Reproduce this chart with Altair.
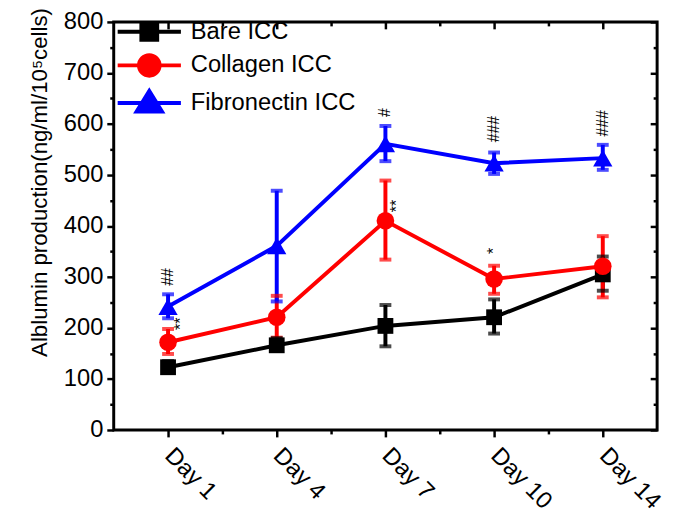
import altair as alt
import pandas as pd

days = ["Day 1", "Day 4", "Day 7", "Day 10", "Day 14"]
series = ["Bare ICC", "Collagen ICC", "Fibronectin ICC"]
colors = ["#000000", "#ff0000", "#0000ff"]

bare_mean = [123, 166, 204, 221, 305]
bare_lo = [112, 155, 164, 189, 273]
bare_hi = [135, 180, 245, 256, 340]
coll_mean = [172, 221, 410, 296, 321]
coll_lo = [149, 181, 334, 267, 260]
coll_hi = [198, 263, 489, 322, 380]
fib_mean = [242, 361, 561, 523, 533]
fib_lo = [219, 252, 527, 502, 510]
fib_hi = [266, 469, 596, 544, 559]

ann_text = ["##", "**", "#", "**", "*", "###", "###"]
ann_x = [1.0, 1.12, 3.0, 3.11, 4.0, 4.0, 5.0]
ann_y = [300, 208, 622, 439, 351, 590, 601]

y_title = "Alblumin production(ng/ml/10\u2075cells)"
FONT = "Liberation Sans"

rows = []
for s, m, lo, hi in [
    (series[0], bare_mean, bare_lo, bare_hi),
    (series[1], coll_mean, coll_lo, coll_hi),
    (series[2], fib_mean, fib_lo, fib_hi),
]:
    for i in range(len(days)):
        rows.append({"series": s, "x": i + 1, "day": days[i], "mean": m[i], "lo": lo[i], "hi": hi[i]})
df = pd.DataFrame(rows)
ann = pd.DataFrame({"ax": ann_x, "ay": ann_y, "at": ann_text})

xs = alt.Scale(domain=[0.5, 5.5], nice=False, zero=False)
ys = alt.Scale(domain=[0, 800], nice=False, zero=False)
color = alt.Color("series:N", scale=alt.Scale(domain=series, range=colors), legend=None)

label_expr = "[" + ",".join("'" + d + "'" for d in days) + "][datum.value-1]"
common = dict(domain=False, grid=False, title=None, tickColor="black", tickWidth=2.5)

x_major = alt.Axis(orient="bottom", values=[1, 2, 3, 4, 5], labelExpr=label_expr, labelAngle=45,
                   labelAlign="left", labelBaseline="middle", labelFont=FONT, labelFontSize=24,
                   labelColor="black", labelPadding=15, tickSize=7, labelOverlap=False, **common)
x_minor = alt.Axis(orient="bottom", values=[1.5, 2.5, 3.5, 4.5], labels=False, tickSize=4, **common)
x_top = alt.Axis(orient="top", values=[1, 2, 3, 4, 5], labels=False, tickSize=7, offset=-7, **common)
x_top_minor = alt.Axis(orient="top", values=[1.5, 2.5, 3.5, 4.5], labels=False, tickSize=4, offset=-4, **common)

y_major = alt.Axis(orient="left", values=list(range(0, 801, 100)), labelFont=FONT, labelFontSize=24,
                   labelColor="black", labelPadding=4, tickSize=7, domain=False, grid=False,
                   tickColor="black", tickWidth=2.5, title=y_title, titleFont=FONT, titleFontSize=22.5,
                   titleFontWeight="normal", titleColor="black", titleAngle=270, titleX=-68, titleY=162,
                   titleAlign="center", titleBaseline="alphabetic", labelOverlap=False)
y_minor = alt.Axis(orient="left", values=list(range(50, 800, 100)), labels=False, tickSize=4, **common)
y_right = alt.Axis(orient="right", values=list(range(0, 801, 100)), labels=False, tickSize=7, offset=-7, **common)
y_right_minor = alt.Axis(orient="right", values=list(range(50, 800, 100)), labels=False, tickSize=4, offset=-4, **common)

base = alt.Chart(df)

rules = base.mark_rule(strokeWidth=4).encode(
    x=alt.X("x:Q", scale=xs, axis=x_major),
    y=alt.Y("lo:Q", scale=ys, axis=y_major),
    y2="hi:Q",
    color=color,
)
caps_lo = base.mark_tick(orient="horizontal", thickness=4, size=12).encode(
    x=alt.X("x:Q", scale=xs, axis=x_minor),
    y=alt.Y("lo:Q", scale=ys, axis=y_minor),
    color=color,
)
caps_hi = base.mark_tick(orient="horizontal", thickness=4, size=12).encode(
    x=alt.X("x:Q", scale=xs, axis=x_top),
    y=alt.Y("hi:Q", scale=ys, axis=y_right),
    color=color,
)
line = base.mark_line(strokeWidth=4).encode(
    x=alt.X("x:Q", scale=xs, axis=x_top_minor),
    y=alt.Y("mean:Q", scale=ys, axis=y_right_minor),
    color=color,
    detail="series:N",
)
points = base.mark_point(filled=True, opacity=1).encode(
    x=alt.X("x:Q", scale=xs, axis=None),
    y=alt.Y("mean:Q", scale=ys, axis=None),
    color=color,
    shape=alt.Shape("series:N", scale=alt.Scale(domain=series, range=["square", "circle", "triangle-up"]), legend=None),
    size=alt.Size("series:N", scale=alt.Scale(domain=series, range=[256, 380, 480]), legend=None),
)

leg_paths = [
    "M-4,0H4M-1,-1H1V1H-1Z",
    "M-4,0H4M-1.3,0A1.3,1.3 0 1,0 1.3,0A1.3,1.3 0 1,0 -1.3,0Z",
    "M-4,0H4M0,-1.5L1.6,1.1H-1.6Z",
]
legend = alt.Legend(title=None, orient="none", legendX=24, legendY=-2, labelFont=FONT, labelFontSize=24,
                    labelColor="black", labelOffset=30, rowPadding=-1, padding=0, symbolSize=256,
                    symbolStrokeWidth=4, symbolOpacity=1, labelLimit=0)
legend_layer = base.mark_point(filled=True, opacity=0, size=256).encode(
    x=alt.X("x:Q", scale=xs, axis=None),
    y=alt.Y("mean:Q", scale=ys, axis=None),
    fill=alt.Fill("series:N", scale=alt.Scale(domain=series, range=colors), legend=legend),
    stroke=alt.Stroke("series:N", scale=alt.Scale(domain=series, range=colors), legend=legend),
    shape=alt.Shape("series:N", scale=alt.Scale(domain=series, range=leg_paths), legend=legend),
)

texts = alt.Chart(ann).mark_text(angle=270, font=FONT, fontSize=16, color="black",
                                 align="center", baseline="middle").encode(
    x=alt.X("ax:Q", scale=xs, axis=None),
    y=alt.Y("ay:Q", scale=ys, axis=None),
    text="at:N",
)

chart = alt.layer(rules, caps_lo, caps_hi, line, points, legend_layer, texts).resolve_scale(
    shape="independent", size="independent", fill="independent", stroke="independent"
).resolve_axis(x="independent", y="independent").properties(
    width=550, height=413,
    autosize=alt.AutoSizeParams(type="none"),
    padding={"left": 107, "top": 11, "right": 10, "bottom": 86},
).configure_view(stroke="black", strokeWidth=3)

chart.save("out.html", embed_options={"renderer": "svg", "actions": False})
